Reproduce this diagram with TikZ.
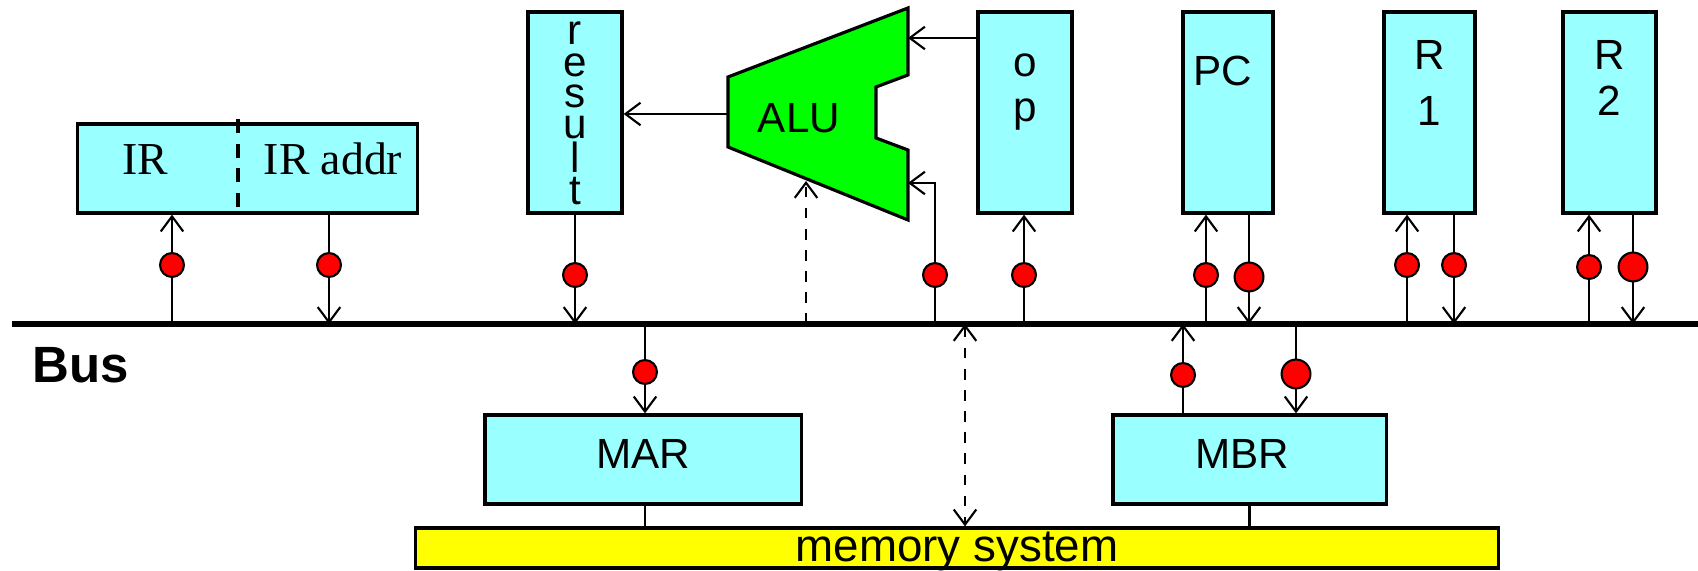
\documentclass[tikz,border=0pt]{standalone}
\usepackage{fontspec}
\setmainfont{Liberation Sans}
\newfontfamily\irfont{Liberation Serif}
\usepackage{xcolor}
\definecolor{regcyan}{RGB}{153, 255, 255}
\definecolor{alugreen}{RGB}{0, 255, 0}
\definecolor{memyellow}{RGB}{255, 255, 0}
\definecolor{gatered}{RGB}{255, 0, 0}
\usetikzlibrary{
  arrows.meta,
  positioning,
  calc
}

\tikzset{
  reg/.style={draw, line width=0.9pt, fill=regcyan, inner sep=0pt},
  lbl/.style={inner sep=0pt, font=\fontsize{12}{14}\selectfont},
  irlbl/.style={inner sep=0pt, font=\irfont\fontsize{13}{15}\selectfont},
  wire/.style={line width=0.6pt},
  tip/.style={-{Straight Barb[length=4.3pt, width=6.4pt]}},
  twotip/.style={{Straight Barb[length=4.3pt, width=6.4pt]}-{Straight Barb[length=4.3pt, width=6.4pt]}},
  gate/.style={circle, draw, line width=0.6pt, fill=gatered, inner sep=0pt, minimum size=6.8pt},
  busline/.style={line width=1.8pt}
}

\begin{document}
\begin{tikzpicture}[x=0.01cm, y=-0.01cm]

  \useasboundingbox (0,0) rectangle (1698,571);

  % registers above the bus
  \node[reg, minimum width=3.39cm, minimum height=0.89cm] (IR) at (247.5,168.5) {};
  \draw[line width=0.9pt, dash pattern=on 4pt off 3pt] (238,119) -- (238,213);
  \node[irlbl, anchor=base] (IRlab) at (145,175) {IR};
  \node[irlbl, anchor=base] (IRaddr) at (333,175) {IR addr};

  \node[reg, minimum width=0.94cm, minimum height=2.01cm] (result) at (575,112.5) {};
  \foreach \ch/\y [count=\i] in {r/45, e/77, s/108, u/139, l/173, t/205}
    \node[lbl, anchor=base] (res-\i) at (575,\y) {\ch};

  \node[reg, minimum width=0.94cm, minimum height=2.01cm] (op) at (1025,112.5) {};
  \node[lbl, anchor=north, align=center, font=\fontsize{12}{12.8}\selectfont] (oplab) at (1025,53) {o\\p};

  \node[reg, minimum width=0.90cm, minimum height=2.01cm] (PC) at (1228,112.5) {};
  \node[lbl, anchor=base] (PClab) at (1223,86) {PC};

  \node[reg, minimum width=0.91cm, minimum height=2.01cm] (R1) at (1429.5,112.5) {};
  \node[lbl, anchor=north, align=center, font=\fontsize{12}{16}\selectfont] (R1lab) at (1429.5,40) {R\\1};

  \node[reg, minimum width=0.93cm, minimum height=2.01cm] (R2) at (1609.5,112.5) {};
  \node[lbl, anchor=north, align=center, font=\fontsize{12}{13}\selectfont] (R2lab) at (1609.5,40) {R\\2};

  % the ALU
  \draw[line width=0.9pt, fill=alugreen] (728,77) -- (908,8) -- (908,75) -- (876,87) -- (876,138)
    -- (908,150) -- (908,220) -- (728,147) -- cycle;
  \node[lbl, anchor=base] (alu) at (799,133) {ALU};
  \coordinate (aluL) at (728,114);
  \coordinate (aluT) at (908,38);
  \coordinate (aluB) at (908,183);
  \coordinate (aluD) at (806,181);

  % the bus
  \draw[busline] (12,324) coordinate (busL) -- (1698,324) coordinate (busR);
  \node[inner sep=0pt, anchor=base west, font=\bfseries\fontsize{14.5}{16}\selectfont] (buslab) at (32,383) {Bus};

  % gated links between bus and registers
  \foreach \n/\x/\dy/\tgt/\dir/\sz in {
    ir/172/265/IR/1/6.8, iraddr/329/265/IR/0/6.8, res/575/275/result/0/6.8,
    op/1024/275/op/1/6.8, pcin/1206/275/PC/1/6.8, pcout/1249/277/PC/0/8.2,
    rain/1407/265/R1/1/6.8, raout/1454/265/R1/0/6.8,
    rbin/1589/267/R2/1/6.8, rbout/1633/267/R2/0/8.2
  } {
    \coordinate (bus-\n) at (\x,324);
    \ifnum\dir=1
      \draw[wire, tip] (bus-\n) -- (bus-\n |- \tgt.south);
    \else
      \draw[wire, tip] (bus-\n |- \tgt.south) -- (bus-\n);
    \fi
    \node[gate, minimum size=\sz pt] (dot-\n) at (\x,\dy) {};
  }

  % ALU inputs and output
  \draw[wire, tip] (aluL) -- (aluL -| result.east);
  \draw[wire, tip] (op.west |- aluT) -- (aluT);
  \coordinate (bus-alub) at (935,324);
  \draw[wire, tip] (bus-alub) |- (aluB);
  \node[gate] (dot-alub) at (935,275) {};
  \coordinate (bus-alud) at (806,324);
  \draw[wire, tip, dashed] (bus-alud) -- (aluD);

  % memory side
  \node[reg, minimum width=3.16cm, minimum height=0.89cm] (MAR) at (643,459.5) {};
  \node[lbl, anchor=base] (MARlab) at (643,469) {MAR};
  \node[reg, minimum width=2.73cm, minimum height=0.89cm] (MBR) at (1249.5,459.5) {};
  \node[lbl, anchor=base] (MBRlab) at (1242,469) {MBR};
  \node[draw, line width=0.9pt, fill=memyellow, inner sep=0pt, minimum width=10.82cm, minimum height=0.40cm] (mem) at (957,548) {};
  \node[lbl, anchor=base, font=\fontsize{13}{15}\selectfont] (memlab) at (957,562) {memory system};

  \coordinate (bus-mar) at (645,324);
  \draw[wire, tip] (bus-mar) -- (bus-mar |- MAR.north);
  \node[gate] (dot-mar) at (645,372) {};
  \draw[wire] (bus-mar |- MAR.south) -- (bus-mar |- mem.north);

  \coordinate (bus-mbrin) at (1183,324);
  \draw[wire, tip] (bus-mbrin |- MBR.north) -- (bus-mbrin);
  \node[gate] (dot-mbrin) at (1183,375) {};
  \coordinate (bus-mbrout) at (1296,324);
  \draw[wire, tip] (bus-mbrout) -- (bus-mbrout |- MBR.north);
  \node[gate, minimum size=8.2pt] (dot-mbrout) at (1296,374) {};
  \draw[wire] (MBR.south) -- (MBR.south |- mem.north);

  \coordinate (bus-mem) at (965,324);
  \draw[wire, twotip, dashed] (bus-mem) -- (bus-mem |- mem.north);

\end{tikzpicture}
\end{document}
